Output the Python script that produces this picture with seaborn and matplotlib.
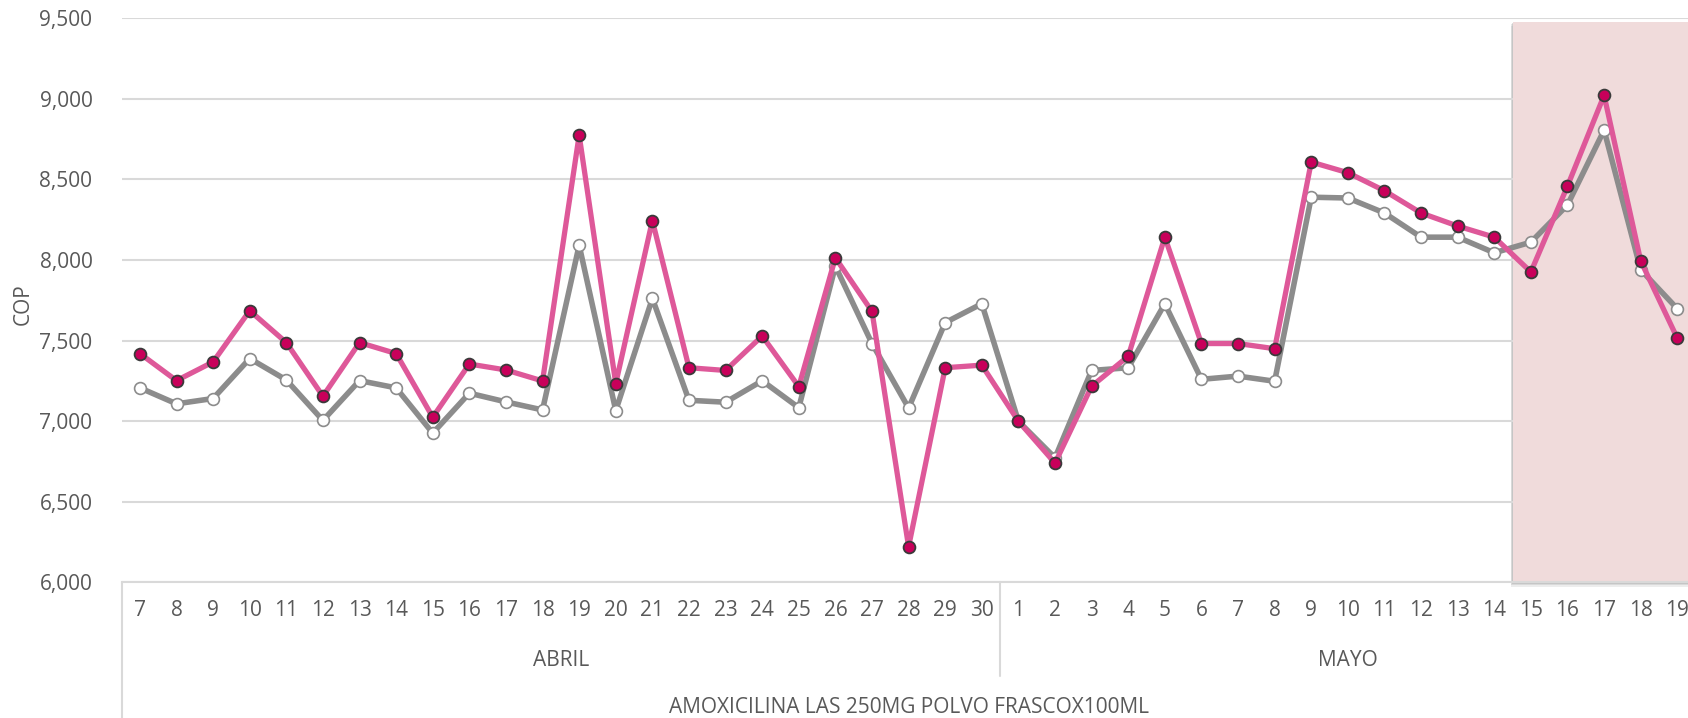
import pandas as pd
import matplotlib
matplotlib.use("Agg")
import matplotlib.pyplot as plt
import matplotlib.transforms as mtransforms
from matplotlib.patches import Rectangle
import seaborn as sns

# días del periodo (abril 7 -> mayo 19)
abril_dias = list(range(7, 31))
mayo_dias = list(range(1, 20))
meses = ["ABRIL", "MAYO"]
producto = "AMOXICILINA LAS 250MG POLVO FRASCOX100ML"

precio_rosa = [7420, 7252, 7368, 7686, 7488, 7155, 7488, 7420, 7025, 7355, 7318, 7250,
               8775, 7234, 8245, 7332, 7315, 7529, 7215, 8014, 7681, 6221, 7332, 7348,
               7000, 6740, 7217, 7403, 8142, 7482, 7482, 7450, 8608, 8542, 8430, 8292,
               8211, 8142, 7926, 8459, 9022, 7995, 7515]
precio_gris = [7207, 7108, 7141, 7389, 7256, 7005, 7252, 7207, 6926, 7174, 7120, 7070,
               8092, 7066, 7762, 7130, 7118, 7251, 7084, 7962, 7482, 7082, 7612, 7729,
               7000, 6773, 7315, 7332, 7729, 7260, 7280, 7248, 8390, 8385, 8292, 8142,
               8142, 8045, 8111, 8342, 8806, 7940, 7698]

dias = abril_dias + mayo_dias
df = pd.DataFrame({
    "pos": range(len(dias)),
    "dia": dias,
    "rosa": precio_rosa,
    "gris": precio_gris,
})

W, H = 1688, 718
TXT = "#595959"

sns.set_theme(style="white")
plt.rcParams["font.family"] = ["Open Sans", "DejaVu Sans"]

fig = plt.figure(figsize=(W / 100, H / 100), dpi=100)
ax = fig.add_axes([121.6 / W, 1 - 582.4 / H, 1574 / W, (582.4 - 18.3) / H])

sns.lineplot(data=df, x="pos", y="gris", ax=ax, color="#8C8C8C", linewidth=4,
             marker="o", markersize=8.5, markerfacecolor="white",
             markeredgecolor="#8C8C8C", markeredgewidth=1.2, zorder=3)
sns.lineplot(data=df, x="pos", y="rosa", ax=ax, color="#DE5899", linewidth=3.8,
             marker="o", markersize=8.5, markerfacecolor="#C8005A",
             markeredgecolor="#3A3A3A", markeredgewidth=1.3, zorder=4)

# zona resaltada (mayo 15 en adelante), con sombra suave
n = len(dias)
x0 = len(abril_dias) + 14 - 0.5
for dx, dy, a in [(0.05, 28, 0.18), (0.03, 18, 0.25), (0.015, 9, 0.35)]:
    ax.add_patch(Rectangle((x0 - dx, 6000 - dy), n - x0 + 1, 9480 - 6000,
                           facecolor="#A0A0A0", edgecolor="none", alpha=a,
                           zorder=0.5, clip_on=False))
ax.add_patch(Rectangle((x0, 6000), n - x0 + 1, 9480 - 6000, facecolor="#F0DBDB",
                       edgecolor="none", zorder=1, clip_on=False))

ax.set_xlim(-0.5, n - 0.5)
ax.set_ylim(6000, 9500)
ax.set_yticks(range(6000, 9501, 500))
ax.yaxis.set_major_formatter(matplotlib.ticker.FuncFormatter(lambda v, p: f"{int(v):,}"))
ax.grid(axis="y", color="#D9D9D9", linewidth=1.5, zorder=0)
ax.grid(axis="x", visible=False)
for s in ["top", "right", "left"]:
    ax.spines[s].set_visible(False)
ax.spines["bottom"].set_color("#D9D9D9")
ax.spines["bottom"].set_linewidth(1.5)
ax.tick_params(axis="y", length=0, pad=21, labelsize=15, labelcolor=TXT)
ax.set_xticks([])
ax.set_xlabel("")
ax.set_ylabel("")
fig.text(23.7 / W, 1 - 304.6 / H, "COP", rotation=90, ha="center", va="center",
         fontsize=15, color=TXT)

# ejes de categorías en varios niveles
tr = mtransforms.blended_transform_factory(ax.transData, ax.transAxes)
for p, d in zip(df["pos"], df["dia"]):
    ax.text(p, -0.0507, str(d), transform=tr, ha="center", va="center",
            fontsize=15, color=TXT, clip_on=False)
na = len(abril_dias)
ax.text((na - 1) / 2, -0.1376, meses[0], transform=tr, ha="center", va="center",
        fontsize=15, color=TXT)
ax.text(na + (len(mayo_dias) - 1) / 2, -0.1376, meses[1], transform=tr, ha="center",
        va="center", fontsize=15, color=TXT)
ax.text((n - 1) / 2, -0.221, producto, transform=tr, ha="center", va="center",
        fontsize=15, color=TXT)
ax.plot([-0.5, -0.5], [0, -0.25], transform=tr, color="#D9D9D9", linewidth=1.5,
        clip_on=False)
ax.plot([na - 0.5, na - 0.5], [0, -0.166], transform=tr, color="#D9D9D9",
        linewidth=1.5, clip_on=False)

fig.savefig("out.png", dpi=100)
